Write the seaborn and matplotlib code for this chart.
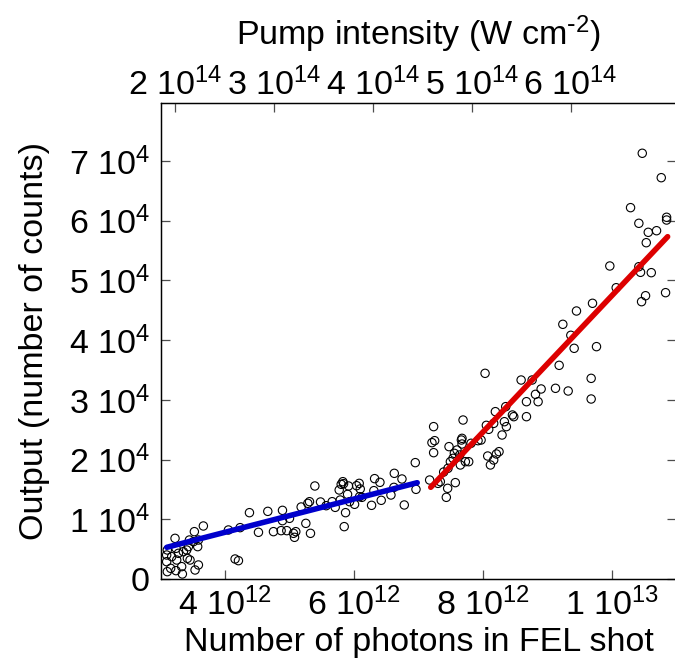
import matplotlib
matplotlib.use("Agg")
import matplotlib.pyplot as plt
import numpy as np
import pandas as pd
import seaborn as sns

# ---- data (photons in units of 1e12, counts in units of 1e4) ----
photons_low = [3.098, 3.088, 3.098, 3.166, 3.150, 3.218, 3.233, 3.244, 3.233, 3.321,
               3.332, 3.270, 3.399, 3.410, 3.441, 3.451, 3.518, 3.503, 3.570, 3.581,
               3.581, 3.529, 3.658, 3.347, 3.088, 3.425,
               4.047, 4.151, 4.203, 4.229, 4.374, 4.514, 4.659, 4.747, 4.866, 4.887,
               4.887, 4.954, 4.996, 5.058, 5.074, 5.094, 5.177, 5.250, 5.281, 5.307,
               5.322, 5.390, 5.478, 5.566, 5.659, 5.706, 5.768, 5.784, 5.799, 5.825,
               5.836, 5.867, 5.846, 5.898, 5.913, 5.929, 6.007, 6.038, 6.079, 6.095,
               6.084, 6.121, 6.271, 6.307, 6.318, 6.401, 6.421, 6.572, 6.624, 6.618,
               6.743, 6.779, 6.950, 6.961]
counts_low = [0.486, 0.290, 0.123, 0.374, 0.179, 0.681, 0.514, 0.318, 0.140, 0.207,
              0.084, 0.430, 0.486, 0.346, 0.653, 0.318, 0.793, 0.625, 0.542, 0.653,
              0.235, 0.151, 0.888, 0.458, 0.402, 0.542,
              0.821, 0.335, 0.307, 0.860, 1.111, 0.782, 1.133, 0.793, 0.810, 1.150,
              0.977, 0.810, 1.016, 0.765, 0.698, 0.793, 1.206, 0.932, 1.267, 1.295,
              0.765, 1.558, 1.290, 1.228, 1.295, 1.200, 1.491, 1.323, 1.586, 1.630,
              1.597, 1.111, 0.877, 1.418, 1.558, 1.295, 1.251, 1.563, 1.602, 1.508,
              1.379, 1.368, 1.234, 1.480, 1.681, 1.619, 1.318, 1.407, 1.770, 1.535,
              1.675, 1.240, 1.949, 1.502]
photons_high = [7.173, 7.235, 7.209, 7.251, 7.235, 7.303, 7.339, 7.391, 7.432, 7.453,
                7.458, 7.474, 7.495, 7.536, 7.557, 7.598, 7.640, 7.572, 7.666, 7.676,
                7.676, 7.650, 7.692, 7.728, 7.780, 7.816, 7.925, 7.972, 8.054, 8.091,
                8.034, 8.075, 8.117, 8.168, 8.168, 8.210, 8.194, 8.251, 8.298, 8.334,
                8.365, 8.355, 8.459, 8.480, 8.594, 8.677, 8.677, 8.765, 8.817, 8.858,
                8.905, 9.128, 9.185, 9.242, 9.325, 9.366, 9.418, 9.454, 9.682, 9.682,
                9.703, 9.765,
                10.476, 10.771, 10.294, 10.423, 10.854, 10.854, 10.569, 10.698, 10.538,
                9.972, 10.423, 10.449, 10.616, 10.071, 10.838, 10.527, 10.465]
counts_high = [1.658, 2.552, 2.284, 2.317, 2.116, 1.602, 1.630, 1.792, 1.368, 1.519,
               1.854, 2.217, 1.965, 2.021, 2.105, 2.161, 2.077, 1.614, 2.328, 2.356,
               2.261, 1.910, 2.663, 1.965, 1.965, 2.273, 2.317, 2.328, 2.574, 2.507,
               3.445, 2.060, 1.910, 2.607, 1.993, 2.094, 2.803, 2.133, 2.412, 2.635,
               2.552, 2.887, 2.747, 2.719, 3.333, 2.719, 2.970, 3.333, 3.093, 2.970,
               3.183, 3.194, 3.579, 4.266, 3.149, 4.082, 3.864, 4.489, 3.361, 3.015,
               4.618, 3.892,
               7.131, 6.722, 6.220, 5.958, 6.059, 6.013, 5.807, 5.834, 5.633,
               5.243, 5.231, 5.137, 5.131, 4.879, 4.796, 4.745, 4.645]

# linear fits (end points)
fit_low_photons = [3.09, 6.98]
fit_low_counts = [0.531, 1.613]
fit_high_photons = [7.19, 10.87]
fit_high_counts = [1.536, 5.734]

# tick labels
x_ticks = [4e12, 6e12, 8e12, 1e13]
x_ticklabels = ["4 10$^{12}$", "6 10$^{12}$", "8 10$^{12}$", "1 10$^{13}$"]
y_ticks = [0, 1e4, 2e4, 3e4, 4e4, 5e4, 6e4, 7e4]
y_ticklabels = ["0"] + [f"{i} 10$^{{4}}$" for i in range(1, 8)]
top_ticks = [2e14, 3e14, 4e14, 5e14, 6e14]
top_ticklabels = [f"{i} 10$^{{14}}$" for i in range(2, 7)]

PH = 1e12
CT = 1e4

df = pd.DataFrame({
    "photons": np.array(photons_low + photons_high) * PH,
    "counts": np.array(counts_low + counts_high) * CT,
})

sns.set_style("ticks")
plt.rcParams["font.family"] = ["Liberation Sans", "DejaVu Sans"]
plt.rcParams["mathtext.default"] = "regular"
plt.rcParams["axes.unicode_minus"] = False
for key in ["text.color", "axes.labelcolor", "xtick.labelcolor", "ytick.labelcolor"]:
    plt.rcParams[key] = "black"

FS = 24.5
W, H = 675, 661
fig = plt.figure(figsize=(W / 100, H / 100), dpi=100)
ax = fig.add_axes([161 / W, 82 / H, 515 / W, 476 / H])

sns.scatterplot(data=df, x="photons", y="counts", ax=ax, marker="o", s=36,
                facecolor="none", edgecolor="black", linewidth=0.8, zorder=3)
sns.lineplot(x=np.array(fit_low_photons) * PH, y=np.array(fit_low_counts) * CT,
             ax=ax, color="#0000cc", linewidth=4.0, zorder=4)
sns.lineplot(x=np.array(fit_high_photons) * PH, y=np.array(fit_high_counts) * CT,
             ax=ax, color="#dd0000", linewidth=4.0, zorder=4)

ax.set_xlim(3e12, 11e12)
ax.set_ylim(0, 79730)
ax.set_xticks(x_ticks)
ax.set_xticklabels(x_ticklabels)
ax.set_yticks(y_ticks)
ax.set_yticklabels(y_ticklabels)
ax.tick_params(axis="both", direction="in", length=6.5, width=0.9, color="0.3",
               labelsize=FS, labelcolor="black", right=True, top=False)
ax.tick_params(axis="x", pad=6.5)
ax.tick_params(axis="y", pad=8)
for s in ax.spines.values():
    s.set_linewidth(0.9)
    s.set_color("black")

ax.set_xlabel("Number of photons in FEL shot", fontsize=FS, labelpad=3, color="black")
ax.set_ylabel("Output (number of counts)", fontsize=FS, va="center", color="black")
ax.yaxis.set_label_coords((35 - 161) / 515, 0.5)

ax2 = ax.twiny()
ax2.set_xlim(1.8584e14, 7.0657e14)
ax2.set_xticks(top_ticks)
ax2.set_xticklabels(top_ticklabels)
ax2.tick_params(axis="x", direction="in", length=6.5, width=0.9, color="0.3",
                labelsize=FS, labelcolor="black", pad=1)
ax2.set_xlabel("Pump intensity (W cm$^{\\text{-}2}$)", fontsize=FS, labelpad=16,
               color="black")
for s in ax2.spines.values():
    s.set_linewidth(0.9)
    s.set_color("black")

fig.savefig("out.png", dpi=100)
